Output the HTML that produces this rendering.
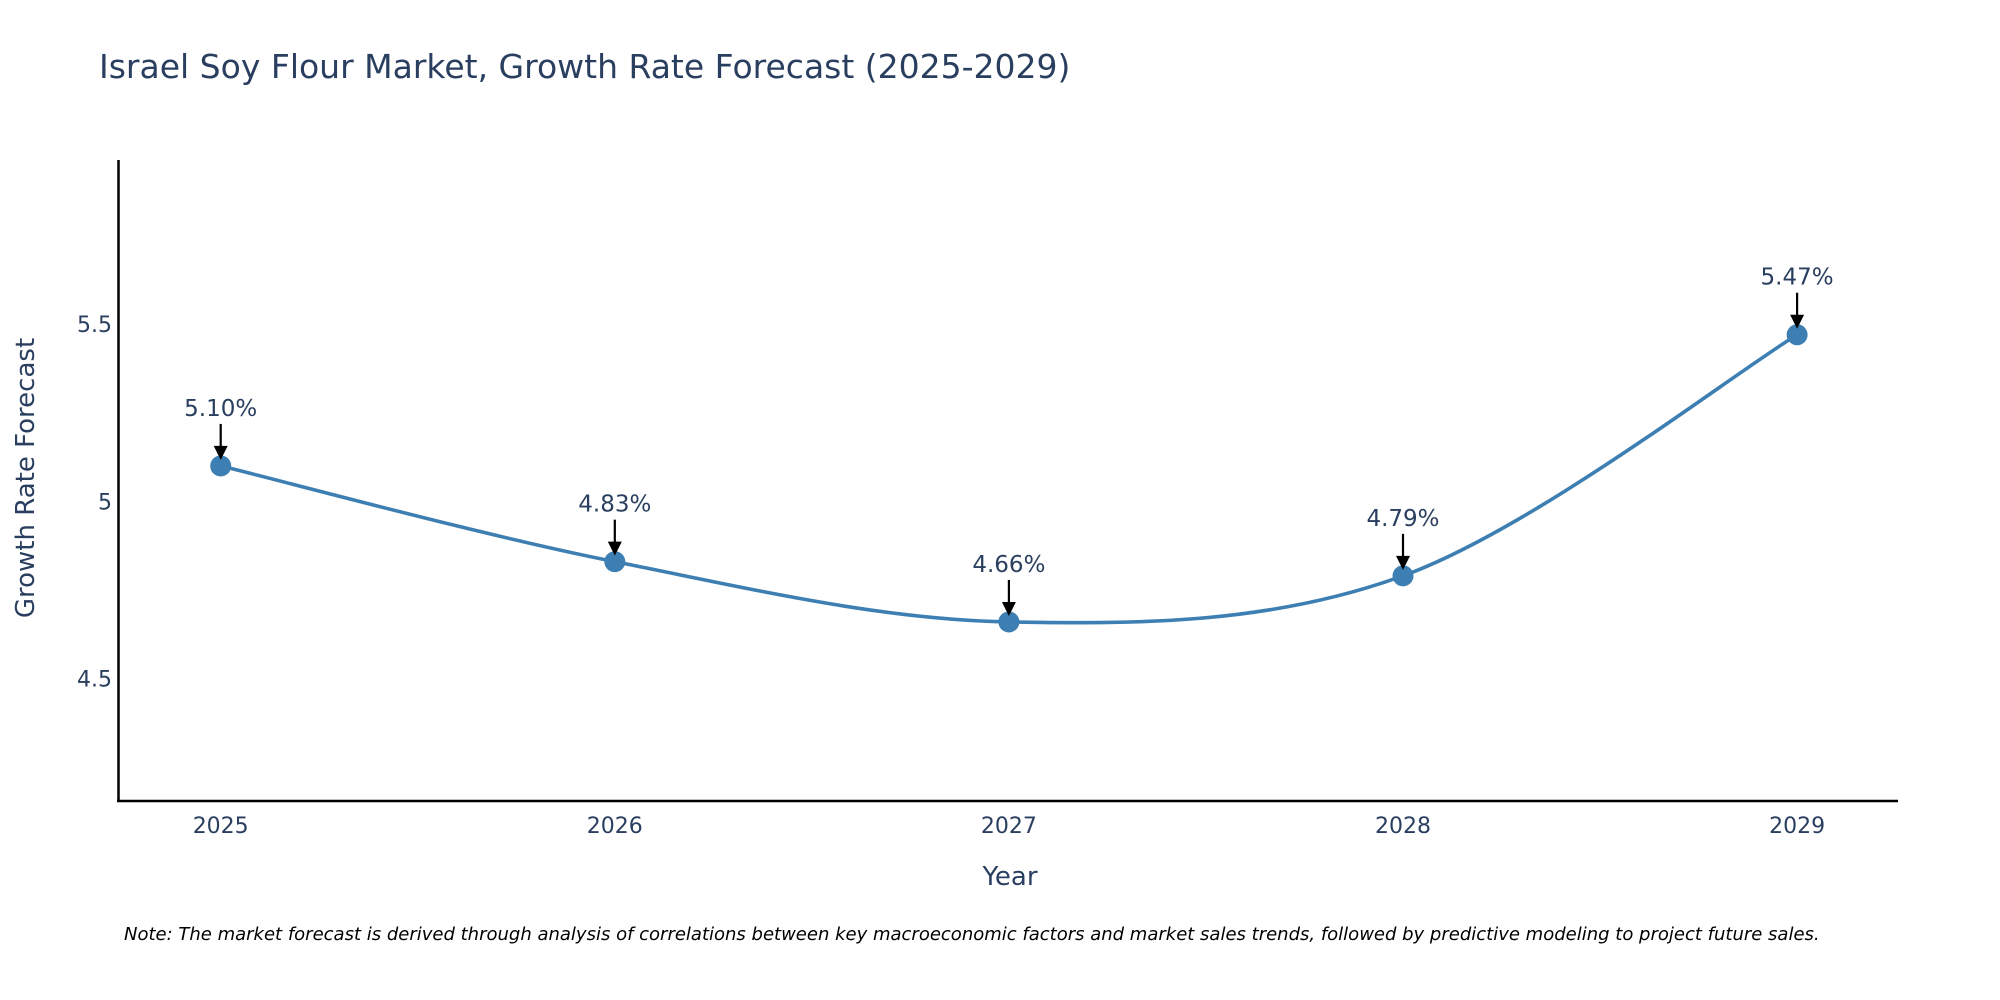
<!DOCTYPE html>
<html><head><meta charset="utf-8">
<style>
html,body{margin:0;padding:0;background:#fff;}
svg{display:block;font-family:"DejaVu Sans","Liberation Sans",sans-serif;}
</style></head>
<body>
<svg id="chart" width="2000" height="1000" viewBox="0 0 2000 1000">
<text x="99" y="78" font-size="33" fill="#2a3f5f">Israel Soy Flour Market, Growth Rate Forecast (2025-2029)</text>
<g id="yticks"></g>
<g id="xticks"></g>
<path id="line" fill="none" stroke="#3d7fb2" stroke-width="3.6"></path>
<g id="points"></g>
<g id="annots"></g>
<line x1="118.5" y1="160" x2="118.5" y2="802" stroke="#000" stroke-width="2.5"/>
<line x1="117" y1="801" x2="1898" y2="801" stroke="#000" stroke-width="2.5"/>
<text x="1010" y="885" font-size="26" fill="#2a3f5f" text-anchor="middle">Year</text>
<text transform="translate(34,478) rotate(-90)" font-size="26" fill="#2a3f5f" text-anchor="middle">Growth Rate Forecast</text>
<text x="124" y="940" font-size="18" font-style="italic" fill="#000">Note: The market forecast is derived through analysis of correlations between key macroeconomic factors and market sales trends, followed by predictive modeling to project future sales.</text>
</svg>
<script>
const years = ["2025","2026","2027","2028","2029"];
const values = [5.10, 4.83, 4.66, 4.79, 5.47];
const labels = ["5.10%","4.83%","4.66%","4.79%","5.47%"];
const yTickValues = [4.5, 5, 5.5];
const yTickLabels = ["4.5","5","5.5"];

const NS = "http://www.w3.org/2000/svg";
const yMin = 4.155, yMax = 5.96, pyBottom = 801, pyTop = 161;
function yScale(v){ return pyBottom - (v - yMin) / (yMax - yMin) * (pyBottom - pyTop); }
const x0 = 220.7, dx = 394.1;
function xScale(i){ return x0 + i * dx; }
function mk(tag, attrs, parent){ const e = document.createElementNS(NS, tag); for (const k in attrs) e.setAttribute(k, attrs[k]); parent.appendChild(e); return e; }

const yt = document.getElementById('yticks');
yTickValues.forEach((v, i) => {
  const t = mk('text', {x: 112, y: yScale(v) + 8, 'font-size': 22, fill: '#2a3f5f', 'text-anchor': 'end'}, yt);
  
  
  t.textContent = yTickLabels[i];
});
const xt = document.getElementById('xticks');
years.forEach((y, i) => {
  const t = mk('text', {x: xScale(i), y: 833, 'font-size': 22, fill: '#2a3f5f', 'text-anchor': 'middle'}, xt);
  
  
  t.textContent = y;
});

const pts = values.map((v, i) => [xScale(i), yScale(v)]);
let d = `M${pts[0][0]},${pts[0][1]}`;
const s = 1/6;
for (let i = 0; i < pts.length - 1; i++) {
  const p0 = pts[Math.max(i-1,0)], p1 = pts[i], p2 = pts[i+1], p3 = pts[Math.min(i+2,pts.length-1)];
  const c1 = [p1[0] + (p2[0]-p0[0])*s, p1[1] + (p2[1]-p0[1])*s];
  const c2 = [p2[0] - (p3[0]-p1[0])*s, p2[1] - (p3[1]-p1[1])*s];
  d += ` C${c1[0]},${c1[1]} ${c2[0]},${c2[1]} ${p2[0]},${p2[1]}`;
}
document.getElementById('line').setAttribute('d', d);

const pg = document.getElementById('points');
const ag = document.getElementById('annots');
pts.forEach((p, i) => {
  const c = mk('circle', {cx: p[0], cy: p[1], r: 10.5, fill: '#3d7fb2'}, pg);
  
  
  const l = mk('line', {x1: p[0], y1: p[1] - 42, x2: p[0], y2: p[1] - 18, stroke: '#000', 'stroke-width': 2.2}, ag);
  
  
  const h = mk('polygon', {points: `${p[0]-7},${p[1]-20} ${p[0]+7},${p[1]-20} ${p[0]},${p[1]-6}`, fill: '#000'}, ag);
  
  
  const t = mk('text', {x: p[0], y: p[1] - 50, 'font-size': 23, fill: '#2a3f5f', 'text-anchor': 'middle'}, ag);
  
  
  t.textContent = labels[i];
});
</script>
</body></html>
